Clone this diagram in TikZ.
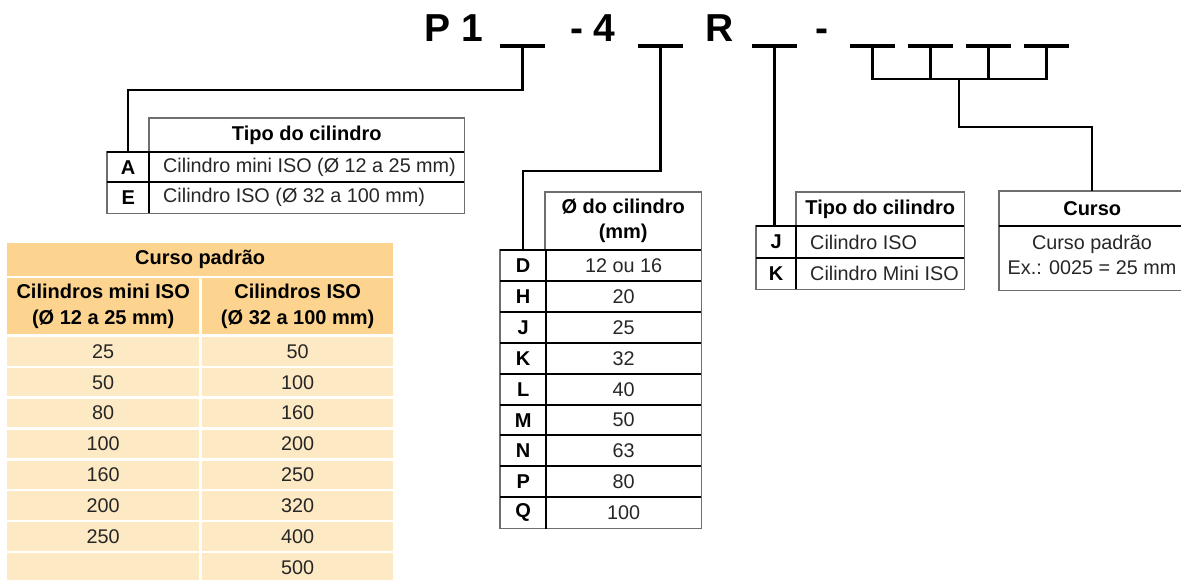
\documentclass[tikz,border=0pt]{standalone}
\usepackage{fontspec}
\setmainfont{Liberation Sans}
\definecolor{hdrc}{HTML}{FDD48F}
\definecolor{rowc}{HTML}{FDE9C4}
\definecolor{framec}{HTML}{6E6E6E}
\definecolor{txtc}{HTML}{262626}
\tikzset{
  code/.style={font=\fontsize{39}{39}\selectfont\bfseries, inner sep=0pt, anchor=base west},
  ubar/.style={fill=black, draw=none, inner sep=0pt, minimum width=45pt, minimum height=3.2pt},
  conn/.style={line width=2.4pt},
  outer/.style={draw=framec, line width=1.1pt},
  inner/.style={draw=black, line width=2pt},
  box/.style 2 args={inner sep=0pt, anchor=north west, minimum width=#1pt, minimum height=#2pt, align=center},
  bf/.style={font=\fontsize{20}{25}\selectfont\bfseries},
  rg/.style={font=\fontsize{19.8}{25}\selectfont, text=txtc},
  lt/.style={rg, inner sep=0pt, anchor=west},
}
\begin{document}
\begin{tikzpicture}[x=1pt,y=-1pt]
\useasboundingbox (0,0) rectangle (1181,579);

% code line
\node[code] (p1) at (424,41) {P 1};
\node[code] (m4) at (570,41) {- 4};
\node[code] (rr) at (705,41) {R};
\node[code] (mm) at (815,41) {-};
\node[ubar] (u1) at (522.5,46) {};
\node[ubar] (u2) at (660.5,46) {};
\node[ubar] (u3) at (774.5,46) {};
\node[ubar] (u4) at (872.5,46) {};
\node[ubar] (u5) at (930.5,46) {};
\node[ubar] (u6) at (988.5,46) {};
\node[ubar] (u7) at (1046.5,46) {};
\coordinate (brk) at (959,79);

% table Tipo A/E
\node[box={315}{34}, bf] (t1h) at (149,118) {Tipo do cilindro};
\node[box={42}{30}, bf] (A) at (107,152) {A};
\node[box={315}{30}] (At) at (149,152) {};
\node[box={42}{31}, bf] (E) at (107,182) {E};
\node[box={315}{31}] (Et) at (149,182) {};
\node[lt] (Atx) at ([xshift=14pt]At.west) {Cilindro mini ISO (Ø 12 a 25 mm)};
\node[lt] (Etx) at ([xshift=14pt]Et.west) {Cilindro ISO (Ø 32 a 100 mm)};
\draw[outer] (t1h.north west) rectangle (t1h.south east);
\draw[outer] (A.north west) rectangle (Et.south east);
\draw[inner] (A.north west) -- (At.north east);
\draw[inner] (E.north west) -- (Et.north east);
\draw[inner] (A.north east) -- (E.south east);

% table diameter
\node[box={156}{58}, bf] (dh) at (545,192) {Ø do cilindro\\(mm)};
\foreach \ltr/\val [count=\i] in {D/12 ou 16,H/20,J/25,K/32,L/40,M/50,N/63,P/80,Q/100} {
  \node[box={46}{30.9}, bf] (dl\i) at (500,{250+(\i-1)*30.9}) {\ltr};
  \node[box={155}{30.9}, rg] (dv\i) at (546,{250+(\i-1)*30.9}) {\val};
}
\draw[outer] (dh.north west) rectangle (dh.south east);
\draw[outer] (dl1.north west) rectangle (dv9.south east);
\foreach \i in {1,...,9} \draw[inner] (dl\i.north west) -- (dv\i.north east);
\draw[inner] (dl1.north east) -- (dl9.south east);

% table Tipo J/K
\node[box={168}{34}, bf] (kh) at (796,192) {Tipo do cilindro};
\node[box={40}{32}, bf] (jl) at (756,226) {J};
\node[box={168}{32}] (jt) at (796,226) {};
\node[box={40}{31}, bf] (kl) at (756,258) {K};
\node[box={168}{31}] (kt) at (796,258) {};
\node[lt] (jtx) at ([xshift=14pt]jt.west) {Cilindro ISO};
\node[lt] (ktx) at ([xshift=14pt]kt.west) {Cilindro Mini ISO};
\draw[outer] (kh.north west) rectangle (kh.south east);
\draw[outer] (jl.north west) rectangle (kt.south east);
\draw[inner] (jl.north west) -- (jt.north east);
\draw[inner] (kl.north west) -- (kt.north east);
\draw[inner] (jl.north east) -- (kl.south east);

% Curso box
\node[box={186}{35}, bf] (ch) at (999,191) {Curso};
\node[box={186}{64}] (crsb) at (999,226) {};
\node[rg, align=center, inner sep=0pt] (ct) at (1092,255) {Curso padrão\\Ex.: 0025 = 25 mm};
\draw[outer] (ch.north west) rectangle (crsb.south east);
\draw[inner] (crsb.north west) -- (crsb.north east);

% Curso padrao table
\node[box={386}{33}, bf, fill=hdrc] (cp) at (7,243) {Curso padrão};
\node[box={192}{56}, bf, fill=hdrc, font=\fontsize{20}{26}\selectfont\bfseries] (cp1) at (7,278) {Cilindros mini ISO\\(Ø 12 a 25 mm)};
\node[box={191}{56}, bf, fill=hdrc, font=\fontsize{20}{26}\selectfont\bfseries] (cp2) at (202,278) {Cilindros ISO\\(Ø 32 a 100 mm)};
\foreach \a/\b [count=\i] in {25/50,50/100,80/160,100/200,160/250,200/320,250/400,/500} {
  \node[box={192}{28.3}, rg, fill=rowc] (ca\i) at (7,{337+(\i-1)*30.85}) {\a};
  \node[box={191}{28.3}, rg, fill=rowc] (cb\i) at (202,{337+(\i-1)*30.85}) {\b};
}

% connectors
\draw[conn] (u1.center) -- ++(0,44) -| (A.north);
\draw[conn] (u2.center) -- ++(0,125) -| (dl1.north);
\draw[conn] (u3.center) -- (u3.center |- jl.north);
\draw[conn] (u4.center) |- (brk) -| (u7.center);
\draw[conn] (u5.center) -- (u5.center |- brk);
\draw[conn] (u6.center) -- (u6.center |- brk);
\draw[conn] (brk) -- ++(0,48) -| (ch.north);
\end{tikzpicture}
\end{document}
